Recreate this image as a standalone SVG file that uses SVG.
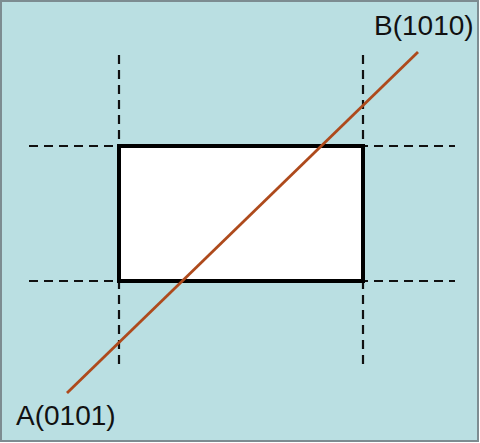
<svg xmlns="http://www.w3.org/2000/svg" width="480" height="443" viewBox="0 0 480 443">
<style>
.dash{stroke:#111;stroke-width:2.2;stroke-dasharray:9,6;fill:none}
.lbl{font-family:"Liberation Sans",Arial,sans-serif;font-size:28px;fill:#111}
</style>
<rect x="1" y="1" width="477" height="440" fill="#BADFE2" stroke="#7d8c91" stroke-width="2"/>
<g id="guides">
<line class="dash" x1="119" y1="55" x2="119" y2="367"/>
<line class="dash" x1="363" y1="55" x2="363" y2="367"/>
<line class="dash" x1="29" y1="146" x2="455" y2="146"/>
<line class="dash" x1="29" y1="281" x2="455" y2="281"/>
</g>
<g id="window">
<rect x="119" y="146" width="244" height="135" fill="#fff" stroke="#000" stroke-width="4"/>
</g>
<g id="connectors">
<line x1="67" y1="393" x2="418" y2="52" stroke="#AE4A1C" stroke-width="2.8"/>
</g>
<g id="labelB"><text class="lbl" x="374" y="35">B(1010)</text></g>
<g id="labelA"><text class="lbl" x="16" y="425">A(0101)</text></g>
</svg>
